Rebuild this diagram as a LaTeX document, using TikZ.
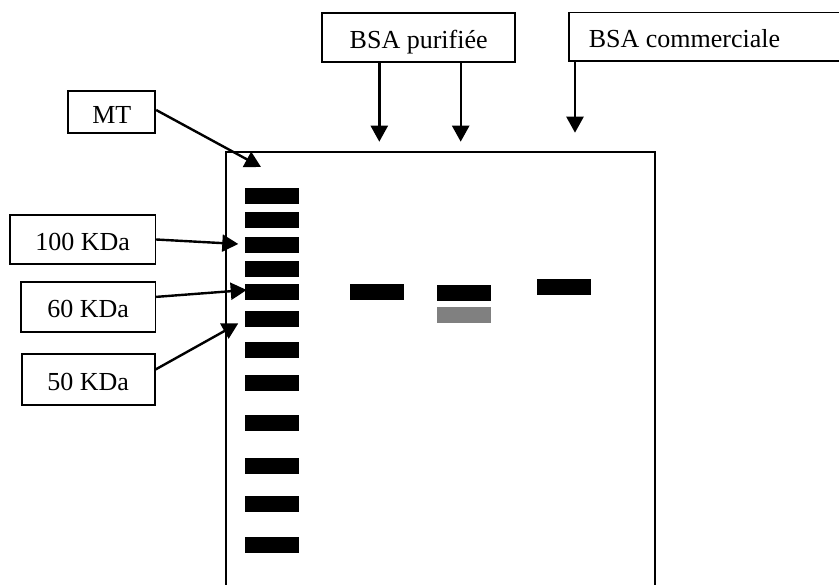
\documentclass[tikz,border=0pt]{standalone}
\usepackage{fontspec}
\setmainfont{Liberation Serif}
\usetikzlibrary{arrows.meta,calc}
\begin{document}
\begin{tikzpicture}[x=1pt,y=-1pt,
  lbl/.style={draw, line width=1.7pt, font=\fontsize{26}{30}\selectfont,
    text height=22pt, text depth=0pt, inner sep=0pt},
  arr/.style={-{Triangle[length=16pt,width=17pt]}, line width=2.4pt},
  band/.style={fill=black},
  faint/.style={fill=black!50},
  gel/.style={line width=1.8pt}]
\useasboundingbox (0,0) rectangle (839,585);
\clip (0,0) rectangle (839,585);
\fill[white] (0,0) rectangle (839,585);

% gel outline (bottom edge beyond picture)
\draw[gel] (226,600) -- (226,152) -- (655,152) -- (655,600);

% marker lane bands
\foreach \y in {188,212,237,261,284,311,342,375,415,458,496,537}
  \fill[band] (245,\y) rectangle (299,\y+16);

% sample bands
\fill[band] (350,284.5) rectangle (404,300.5);
\fill[band] (436.5,285) rectangle (490.5,301);
\fill[faint] (437,307.5) rectangle (491,323.5);
\fill[band] (536.5,279) rectangle (590.5,295);

% label boxes
\node[lbl, minimum width=193pt, minimum height=49pt] (bp) at (418.7,37.2) {BSA purifiée};
\node[lbl, anchor=west, inner xsep=20pt, minimum height=48.5pt] (bc) at (568,36.9)
  {\makebox[240pt][l]{BSA commerciale}};
\node[lbl, minimum width=87pt, minimum height=42.3pt] (mt) at (111.8,112.2) {MT};
\node[lbl, minimum width=145.3pt, minimum height=49pt] (k100) at (82.7,239.5) {100 KDa};
\node[lbl, minimum width=134.3pt, minimum height=50pt] (k60) at (88.2,306.7) {60 KDa};
\node[lbl, minimum width=133pt, minimum height=51pt] (k50) at (88.2,379.5) {50 KDa};

% arrow tips
\coordinate (t1) at (379.3,141.7);
\coordinate (t2) at (460.7,141.7);
\coordinate (t3) at (575,132.7);
\coordinate (tmt) at (261,167);
\coordinate (t100) at (238.3,244);
\coordinate (t60) at (246.7,290);
\coordinate (t50) at (238.3,323.3);

% connectors
\draw[arr] (t1 |- bp.south) -- (t1);
\draw[arr] (t2 |- bp.south) -- (t2);
\draw[arr] (t3 |- bc.south) -- (t3);
\draw[arr] ($(mt.north east)!0.45!(mt.south east)$) -- (tmt);
\draw[arr] (k100.east) -- (t100);
\draw[arr] ($(k60.north east)!0.31!(k60.south east)$) -- (t60);
\draw[arr] ($(k50.north east)!0.31!(k50.south east)$) -- (t50);
\end{tikzpicture}
\end{document}
